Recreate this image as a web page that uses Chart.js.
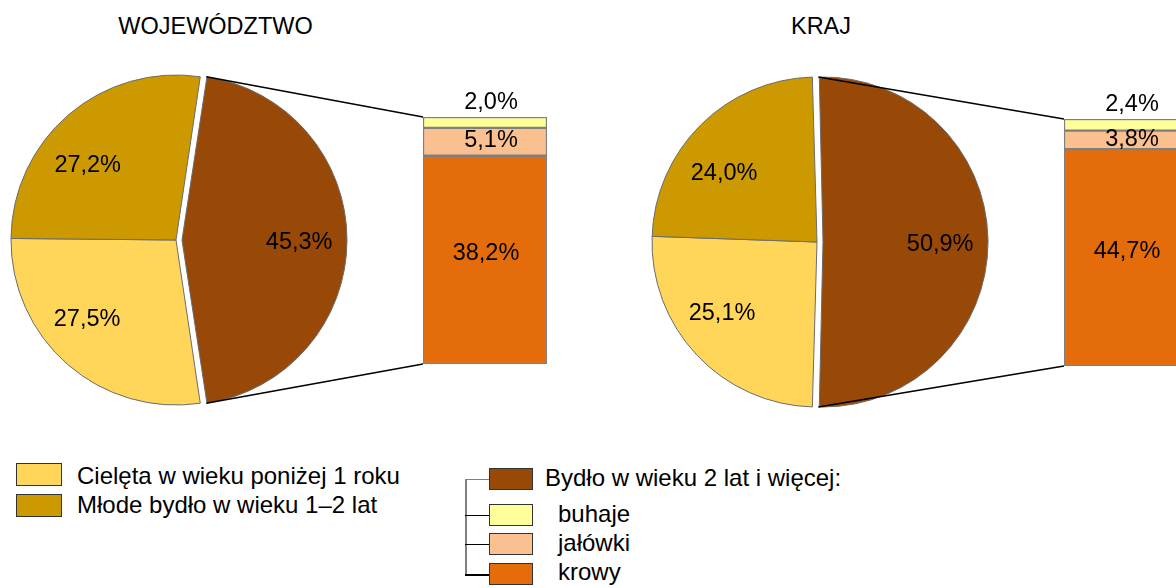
<!DOCTYPE html>
<html>
<head>
<meta charset="utf-8">
<script src="https://cdn.jsdelivr.net/npm/chart.js@4.4.1/dist/chart.umd.min.js"></script>
<style>
html,body{margin:0;padding:0;background:#fff;overflow:hidden;}
#root{position:relative;width:1176px;height:588px;overflow:hidden;font-family:"Liberation Sans",Arial,sans-serif;font-size:23.5px;color:#000;background:#fff;}
#root canvas{position:absolute;}
.t{position:absolute;white-space:nowrap;line-height:28px;}
.lg{font-size:24px;}
.box{position:absolute;box-sizing:border-box;border:1px solid #333;}
.ln{position:absolute;}
</style>
</head>
<body>
<div id="root">
  <canvas id="pieW" width="352" height="360" style="left:0px;top:60px;"></canvas>
  <canvas id="barW" width="164" height="300" style="left:403px;top:80px;"></canvas>
  <canvas id="pieK" width="360" height="360" style="left:637px;top:62px;"></canvas>
  <canvas id="barK" width="164" height="300" style="left:1044px;top:82px;"></canvas>
  <canvas id="links" width="1176" height="588" style="left:0;top:0;z-index:5;pointer-events:none;"></canvas>
</div>
<script>
// ---- data ----
const regions = ['WOJEWÓDZTWO', 'KRAJ'];
const pieCategories = ['Bydło w wieku 2 lat i więcej', 'Cielęta w wieku poniżej 1 roku', 'Młode bydło w wieku 1–2 lat'];
const pieWojewodztwo = [45.3, 27.5, 27.2];
const pieKraj = [50.9, 25.1, 24.0];
const barCategories = ['krowy', 'jałówki', 'buhaje'];
const barWojewodztwo = [38.2, 5.1, 2.0];
const barKraj = [44.7, 3.8, 2.4];

// ---- styles ----
const pieColors = ['#984807', '#FFD65A', '#CC9900'];
const barColors = ['#E46C0A', '#FAC090', '#FFFF99'];
const FONT = '"Liberation Sans", Arial, sans-serif';
const fmt = v => v.toFixed(1).replace('.', ',') + '%';

const root = document.getElementById('root');
function addText(txt, left, top, center, cls) {
  const d = document.createElement('div');
  d.className = 't' + (cls ? ' ' + cls : '');
  d.textContent = txt;
  d.style.left = left + 'px';
  d.style.top = top + 'px';
  if (center) d.style.transform = 'translateX(-50%)';
  root.appendChild(d);
}
function addBox(color, left, top, w, h) {
  const d = document.createElement('div');
  d.className = 'box';
  Object.assign(d.style, {left: left + 'px', top: top + 'px', width: w + 'px', height: h + 'px', background: color});
  root.appendChild(d);
}
function addLine(color, left, top, w, h) {
  const d = document.createElement('div');
  d.className = 'ln';
  Object.assign(d.style, {left: left + 'px', top: top + 'px', width: w + 'px', height: h + 'px', background: color});
  root.appendChild(d);
}

// keep exploded slice at same radius as others
const pieFix = {
  id: 'pieFix',
  beforeDatasetsDraw(chart) {
    const meta = chart.getDatasetMeta(0);
    const R = meta.controller.outerRadius;
    meta.data.forEach(el => {
      const o = (el.options.offset || 0) / 4;
      const fix = 1 - Math.sin(Math.min(Math.PI, el.circumference || 0));
      el.outerRadius = R - o * fix;
    });
  }
};

const pieLabels = {
  id: 'pieLabels',
  afterDatasetsDraw(chart) {
    const ctx = chart.ctx;
    const meta = chart.getDatasetMeta(0);
    const R = meta.controller.outerRadius;
    const vals = chart.data.datasets[0].data;
    ctx.save();
    ctx.font = '23.5px ' + FONT;
    ctx.fillStyle = '#000';
    ctx.textAlign = 'center';
    ctx.textBaseline = 'middle';
    meta.data.forEach((el, i) => {
      const mid = (el.startAngle + el.endAngle) / 2;
      const o = (el.options.offset || 0) / 4;
      const cx = el.x + Math.cos(mid) * o, cy = el.y + Math.sin(mid) * o;
      const h = Math.cos(mid) >= 0 ? 0 : Math.PI;
      let d = mid - h; d = Math.atan2(Math.sin(d), Math.cos(d));
      const a = h + 0.83 * d;
      ctx.fillText(fmt(vals[i]), cx + 0.71 * R * Math.cos(a), cy + 0.71 * R * Math.sin(a) + 3);
    });
    ctx.restore();
  }
};

const barLabels = {
  id: 'barLabels',
  afterDatasetsDraw(chart) {
    const ctx = chart.ctx;
    ctx.save();
    ctx.font = '23.5px ' + FONT;
    ctx.fillStyle = '#000';
    ctx.textAlign = 'center';
    ctx.textBaseline = 'middle';
    chart.data.datasets.forEach((ds, i) => {
      chart.getDatasetMeta(i).data.forEach((bar, j) => {
        const {x, y, base} = bar.getProps(['x', 'y', 'base'], true);
        const h = base - y;
        const ty = h < 16 ? y - 14 : (y + base) / 2 - 0.03 * h;
        const tx = h < 40 ? x + 6 : x + 1;
        ctx.fillText(fmt(ds.data[j]), tx, ty);
      });
    });
    ctx.restore();
  }
};

function makePie(id, values) {
  return new Chart(document.getElementById(id), {
    type: 'pie',
    data: {
      labels: pieCategories,
      datasets: [{
        data: values,
        backgroundColor: pieColors,
        borderColor: '#6b6b6b',
        borderWidth: 1,
        offset: [24, 0, 0]
      }]
    },
    options: {
      responsive: false,
      animation: false,
      events: [],
      rotation: 90 - values[0] * 1.8,
      radius: 165,
      layout: {padding: 0},
      plugins: {legend: {display: false}, tooltip: {enabled: false}}
    },
    plugins: [pieFix, pieLabels]
  });
}

function makeBar(id, values) {
  const total = values.reduce((a, b) => a + b, 0);
  return new Chart(document.getElementById(id), {
    type: 'bar',
    data: {
      labels: [''],
      datasets: barCategories.map((c, i) => ({
        label: c,
        data: [values[i]],
        backgroundColor: barColors[i],
        borderColor: '#7f7f7f',
        borderWidth: 1.5,
        borderSkipped: false,
        barPercentage: 1,
        categoryPercentage: 1
      }))
    },
    options: {
      responsive: false,
      animation: false,
      events: [],
      layout: {padding: {left: 20, right: 20, top: 37, bottom: 16}},
      scales: {
        x: {stacked: true, display: false},
        y: {stacked: true, display: false, min: 0, max: total}
      },
      plugins: {legend: {display: false}, tooltip: {enabled: false}}
    },
    plugins: [barLabels]
  });
}

const pW = makePie('pieW', pieWojewodztwo);
const bW = makeBar('barW', barWojewodztwo);
const pK = makePie('pieK', pieKraj);
const bK = makeBar('barK', barKraj);

function drawLinks() {
  const c = document.getElementById('links');
  const ctx = c.getContext('2d');
  ctx.clearRect(0, 0, c.width, c.height);
  ctx.strokeStyle = '#000';
  ctx.lineWidth = 1.6;
  [[pW, bW], [pK, bK]].forEach(([pie, bar]) => {
    const pl = pie.canvas.offsetLeft, pt = pie.canvas.offsetTop;
    const meta = pie.getDatasetMeta(0);
    const el = meta.data[0];
    const R = meta.controller.outerRadius;
    const mid = (el.startAngle + el.endAngle) / 2;
    const o = (el.options.offset || 0) / 4;
    const cx = pl + el.x + Math.cos(mid) * o, cy = pt + el.y + Math.sin(mid) * o;
    const p1 = [cx + R * Math.cos(el.startAngle), cy + R * Math.sin(el.startAngle)];
    const p2 = [cx + R * Math.cos(el.endAngle), cy + R * Math.sin(el.endAngle)];
    const bl = bar.canvas.offsetLeft, bt = bar.canvas.offsetTop;
    const b0 = bar.getDatasetMeta(0).data[0];
    const bTop = bar.getDatasetMeta(bar.data.datasets.length - 1).data[0];
    const left = bl + b0.x - b0.width / 2;
    const top = bt + bTop.y;
    const bottom = bt + b0.base;
    ctx.beginPath();
    ctx.moveTo(p1[0], p1[1]); ctx.lineTo(left, top);
    ctx.moveTo(p2[0], p2[1]); ctx.lineTo(left, bottom);
    ctx.stroke();
  });
}
drawLinks();

// titles
addText(regions[0], 215.5, 12, true);
addText(regions[1], 821, 12, true);

// legend left
addBox(pieColors[1], 16, 463, 46, 23);
addText(pieCategories[1], 77, 462, false, 'lg');
addBox(pieColors[2], 16, 494, 46, 23);
addText(pieCategories[2], 77, 491, false, 'lg');

// legend right with bracket
addLine('#808080', 465, 478.5, 1.5, 97);
addLine('#808080', 465, 478.5, 24, 1.5);
addLine('#000', 465, 514.5, 24, 1.5);
addLine('#000', 465, 543.5, 24, 1.5);
addLine('#000', 465, 574, 24, 1.5);
addBox(pieColors[0], 489, 468, 44, 22);
addText(pieCategories[0] + ':', 545, 464, false, 'lg');
addBox(barColors[2], 489, 504, 44, 22);
addText(barCategories[2], 558, 500, false, 'lg');
addBox(barColors[1], 489, 533, 44, 22);
addText(barCategories[1], 558, 529, false, 'lg');
addBox(barColors[0], 489, 563, 44, 22);
addText(barCategories[0], 558, 558, false, 'lg');
</script>
</body>
</html>
